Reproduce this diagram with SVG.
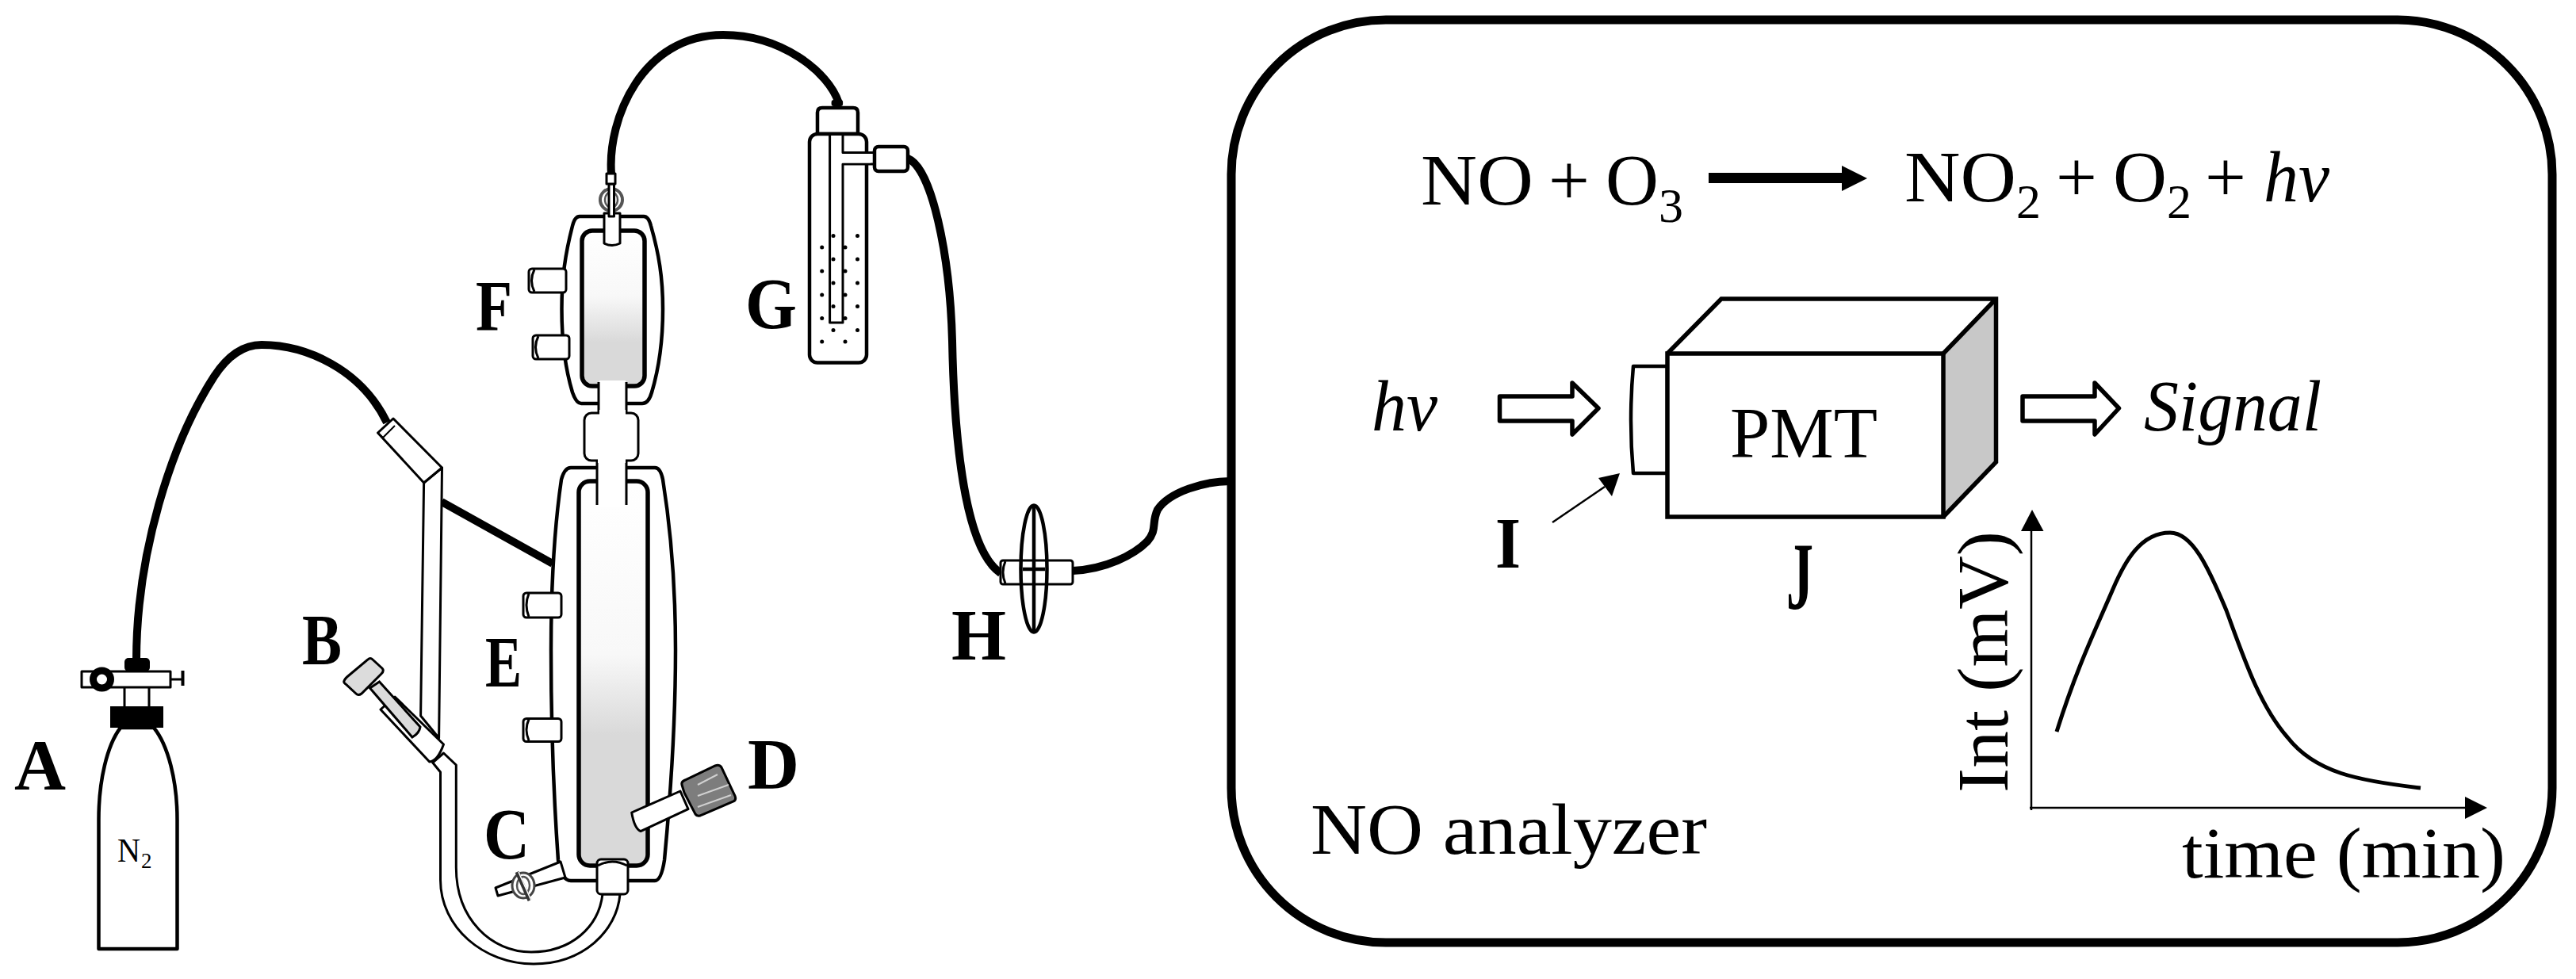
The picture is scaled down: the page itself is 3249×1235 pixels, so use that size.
<svg xmlns="http://www.w3.org/2000/svg" width="3249" height="1235" viewBox="0 0 3249 1235">
<defs>
<linearGradient id="gE" x1="0" y1="0" x2="0" y2="1"><stop offset="0" stop-color="#ffffff"/><stop offset="0.45" stop-color="#f8f8f8"/><stop offset="0.66" stop-color="#d9d9d9"/><stop offset="1" stop-color="#d9d9d9"/></linearGradient>
<linearGradient id="gF" x1="0" y1="0" x2="0" y2="1"><stop offset="0" stop-color="#ffffff"/><stop offset="0.42" stop-color="#f8f8f8"/><stop offset="0.72" stop-color="#d9d9d9"/><stop offset="1" stop-color="#d9d9d9"/></linearGradient>
</defs>
<style>
text{font-family:"Liberation Serif","Times New Roman",serif;fill:#000}
.lab{font-size:92px;font-weight:700}
.t{font-size:92px}
.sub{font-size:62px}
.i{font-style:italic}
.w{fill:#fff;stroke:#000;stroke-width:4.5;stroke-linejoin:round}
.thin{fill:#fff;stroke:#000;stroke-width:3;stroke-linejoin:round}
.ln{fill:none;stroke:#000;stroke-width:3}
.tube{fill:none;stroke:#000;stroke-width:10;stroke-linecap:butt}
.blk{fill:#000;stroke:none}
.dot{fill:#000}
</style>
<rect width="3249" height="1235" fill="#fff"/>

<g id="connectors">
<path class="tube" d="M172 833C172 700 215 560 270 475C285 452 305 435 330 435C385 435 455 465 488 533"/>
<path class="tube" d="M557 633L697 711"/>
<path class="tube" d="M771 219C766 150 810 44 912 44C985 44 1045 90 1058 130"/>
<path class="tube" d="M1145 200C1175 212 1198 320 1201 430C1203 530 1213 690 1262 723"/>
<path class="tube" d="M1353 720C1395 718 1430 700 1447 683C1460 668 1452 660 1460 643C1475 620 1520 607 1552 607"/>
</g>

<g id="node-A">
<path class="w" d="M152 918C135 940 124.500 985 124.500 1034V1197H223.500V1034C223.500 985 212 940 194 918Z"/>
<rect class="blk" x="139" y="891" width="67" height="27"/>
<path class="ln" d="M157 867V891M188 867V891"/>
<rect class="blk" x="157" y="830" width="32" height="17" rx="5"/>
<rect class="thin" x="103" y="847" width="112" height="20"/>
<circle class="w" cx="128.500" cy="857" r="11" style="stroke-width:9"/>
<path class="ln" d="M215 857H230"/>
<path class="ln" d="M230.500 846V865" style="stroke-width:4"/>
<text x="148" y="1087" font-size="42" textLength="29" lengthAdjust="spacingAndGlyphs">N</text>
<text x="178" y="1095" font-size="27">2</text>
<text class="lab" x="18" y="996" textLength="65" lengthAdjust="spacingAndGlyphs">A</text>
</g>

<g id="node-B">
<path class="thin" d="M534.600 609L530.600 903L553.600 931L557.500 590Z"/>
<path class="thin" d="M476.500 546L496 528L557.500 590L534.600 609Z"/>
<path class="ln" d="M476.500 546L483 552L498 537" style="stroke-width:2"/>
<path class="thin" d="M555.500 974V1110C555.500 1170 610 1216 673 1216C735 1216 778 1175 782 1128L760 1128C755 1170 720 1201 670 1201C620 1201 575.300 1160 575.300 1094V965L559.500 950L545.700 962Z"/>
<path class="thin" d="M480 895L541.700 961Q552 960 559.500 939L498 879Z"/>
<path d="M466.600 868L478.500 860L530 917Q529 925 520 930Z" fill="#dcdcdc" stroke="#000" stroke-width="3"/>
<path d="M434 859Q435 856 440 852L464 832Q467 829 470 832L482 843Q485 846 481 850L456 875Q452 878 449 875L436 863Q433 861 434 859Z" fill="#dcdcdc" stroke="#000" stroke-width="3"/>
<text class="lab" x="381" y="838" textLength="50" lengthAdjust="spacingAndGlyphs">B</text>
</g>

<g id="node-E">
<path class="w" d="M720 590H826Q833 590 836 605C848 680 852 760 852 820C852 900 848 980 838 1085Q834 1111 826 1111H720Q708 1111 704 1085C698 1000 695 900 695 820C695 740 700 660 708 605Q712 590 720 590Z"/>
<rect class="thin" x="660" y="748" width="48" height="31" rx="4"/>
<path class="ln" d="M667 749Q661 763 667 778"/>
<rect class="thin" x="660" y="906.500" width="48" height="29" rx="4"/>
<path class="ln" d="M667 907.500Q661 920 667 934"/>
<rect x="730" y="607" width="87" height="485" rx="14" fill="url(#gE)" stroke="#000" stroke-width="5.500"/>
<rect x="754" y="582" width="35" height="58" fill="#fff"/>
<path class="ln" d="M753 637V581M790 637V581"/>
<text class="lab" x="612" y="866" textLength="46" lengthAdjust="spacingAndGlyphs">E</text>
</g>

<g id="node-C">
<path class="thin" d="M707 1087L625 1120L628 1130L713 1107Z"/>
<ellipse cx="660" cy="1117" rx="14" ry="16" fill="#fff" stroke="#444" stroke-width="3"/>
<ellipse cx="660" cy="1117" rx="8" ry="11" fill="none" stroke="#555" stroke-width="2.500"/>
<path d="M652 1100L668 1136" stroke="#333" stroke-width="5" fill="none"/>
<path d="M654 1100L670 1136" stroke="#fff" stroke-width="1.500" fill="none"/>
<text class="lab" x="610" y="1083" textLength="58" lengthAdjust="spacingAndGlyphs">C</text>
</g>

<g id="node-D">
<path class="thin" d="M796.700 1025L858 998L868 1020.600L808 1048.600Q800 1045 796.700 1025Z"/>
<path d="M860 990Q859 986 864 984L902 966Q907 964 910 968L927 1004Q929 1009 925 1011L885 1028Q880 1031 877 1027L863 1000Z" fill="#7d7d7d" stroke="#000" stroke-width="3"/>
<path d="M880 990L905 977M880 1004L919 990M880 1018L922 1003" stroke="#d0d0d0" stroke-width="2" fill="none"/>
<text class="lab" x="943" y="995" textLength="65" lengthAdjust="spacingAndGlyphs">D</text>
</g>

<g id="node-fitting">
<rect class="thin" x="753" y="1084" width="39" height="44" rx="5"/>
<path class="ln" d="M754 1092Q772 1082 791 1092"/>
</g>

<g id="node-F">
<path class="w" d="M731 273H812Q818 273 821 285C831 320 836 350 836 390C836 430 831 465 822 495Q818 509 810 509H733Q727 509 722 495C713 465 708.500 430 708.500 390C708.500 350 713 320 722 285Q725 273 731 273Z"/>
<rect class="thin" x="672" y="423" width="46" height="30" rx="4"/>
<path class="ln" d="M679 424Q672 438 679 452"/>
<rect class="thin" x="667" y="339" width="47" height="30" rx="4"/>
<path class="ln" d="M674 340Q667 354 674 368"/>
<rect x="734" y="291" width="79" height="196" rx="13" fill="url(#gF)" stroke="#000" stroke-width="5.500"/>
<path class="thin" d="M762 269H782V307Q772 312 762 307Z"/>
<rect x="756" y="480" width="33" height="45" fill="#fff"/>
<path class="ln" d="M755 482V521M790 482V521"/>
<rect class="thin" x="737" y="521" width="68" height="60" rx="9"/>
<rect x="756" y="517" width="33" height="7" fill="#fff"/>
<rect x="754" y="579" width="35" height="5" fill="#fff"/>
<ellipse cx="771" cy="252" rx="14" ry="14" fill="#fff" stroke="#555" stroke-width="4"/>
<ellipse cx="771" cy="252" rx="8" ry="10" fill="none" stroke="#555" stroke-width="2.500"/>
<rect class="thin" x="768" y="232" width="6.500" height="41"/>
<rect class="thin" x="765" y="219" width="11" height="13"/>
<text class="lab" x="600" y="417" textLength="46" lengthAdjust="spacingAndGlyphs">F</text>
</g>

<g id="node-G">
<rect class="blk" x="1048.600" y="126" width="14.500" height="8" rx="3"/>
<path class="w" d="M1031 169V142Q1031 136 1037 136H1076Q1082 136 1082 142V169Z"/>
<rect class="w" x="1021" y="169" width="72" height="288.500" rx="10"/>
<path class="thin" d="M1046.600 171V407H1063V207H1103V192.500H1063V171"/>
<rect x="1058" y="194" width="40" height="11.500" fill="#fff"/>
<rect class="w" x="1103" y="185" width="42" height="31" rx="5"/>
<g class="dot">
<circle cx="1036.700" cy="312" r="2.500"/><circle cx="1036.700" cy="342" r="2.500"/><circle cx="1036.700" cy="372" r="2.500"/><circle cx="1036.700" cy="401.500" r="2.500"/><circle cx="1036.700" cy="431" r="2.500"/>
<circle cx="1066" cy="312" r="2.500"/><circle cx="1066" cy="342" r="2.500"/><circle cx="1066" cy="372" r="2.500"/><circle cx="1066" cy="401.500" r="2.500"/><circle cx="1066" cy="431" r="2.500"/>
<circle cx="1051" cy="297.500" r="2.500"/><circle cx="1051" cy="327" r="2.500"/><circle cx="1051" cy="357" r="2.500"/><circle cx="1051" cy="386.500" r="2.500"/><circle cx="1051" cy="416.500" r="2.500"/>
<circle cx="1081.500" cy="297.500" r="2.500"/><circle cx="1081.500" cy="327" r="2.500"/><circle cx="1081.500" cy="357" r="2.500"/><circle cx="1081.500" cy="386.500" r="2.500"/><circle cx="1081.500" cy="416.500" r="2.500"/>
</g>
<text class="lab" x="940" y="414" textLength="65" lengthAdjust="spacingAndGlyphs">G</text>
</g>

<g id="node-H">
<rect class="thin" x="1262" y="707" width="91" height="30" rx="3"/>
<path class="ln" d="M1268 708Q1262 722 1268 736"/>
<ellipse cx="1304" cy="717.500" rx="16.500" ry="80" fill="none" stroke="#000" stroke-width="4.500"/>
<path class="ln" d="M1304 638V797M1290 718H1318" style="stroke-width:4.500"/>
<text class="lab" x="1200" y="832" textLength="69" lengthAdjust="spacingAndGlyphs">H</text>
</g>

<g id="node-analyzer">
<rect x="1553" y="25" width="1666" height="1164" rx="195" ry="195" fill="none" stroke="#000" stroke-width="11"/>
<text class="t" x="1653" y="1077" textLength="500" lengthAdjust="spacingAndGlyphs">NO analyzer</text>
</g>

<g id="equation">
<text class="t" x="1792" y="258" textLength="142" lengthAdjust="spacingAndGlyphs">NO</text>
<text class="t" x="1953" y="258">+</text>
<text class="t" x="2025" y="258" textLength="67" lengthAdjust="spacingAndGlyphs">O</text>
<text class="sub" x="2092" y="280">3</text>
<path class="blk" d="M2155 218H2323V209L2355 225L2323 241V231H2155Z"/>
<text class="t" x="2402" y="254" textLength="141" lengthAdjust="spacingAndGlyphs">NO</text>
<text class="sub" x="2543" y="275">2</text>
<text class="t" x="2593" y="254">+</text>
<text class="t" x="2665" y="254" textLength="68" lengthAdjust="spacingAndGlyphs">O</text>
<text class="sub" x="2733" y="275">2</text>
<text class="t" x="2781" y="254">+</text>
<text class="t i" x="2855" y="254" textLength="83" lengthAdjust="spacingAndGlyphs">hv</text>
</g>

<g id="node-J">
<path d="M2451 446L2517.500 377V583L2451 652Z" fill="#c8c8c8"/>
<path class="w" d="M2060 462H2103V597H2060Q2054 530 2060 462Z"/>
<path d="M2103 446L2171 377H2517.500L2451 446Z" fill="#fff"/>
<rect x="2103" y="446" width="348" height="206" fill="#fff" stroke="#000" stroke-width="5.500"/>
<path d="M2103 446L2171 377H2517.500V583L2451 652M2451 446L2517.500 377" fill="none" stroke="#000" stroke-width="5.500"/>
<text class="t" x="2182" y="577" textLength="186" lengthAdjust="spacingAndGlyphs">PMT</text>
<text class="lab" x="2253" y="768" style="font-size:120px" textLength="34" lengthAdjust="spacingAndGlyphs">J</text>
</g>

<g id="node-I">
<path d="M1958 659L2024 614" stroke="#000" stroke-width="2.500" fill="none"/>
<path class="blk" d="M2043 597L2033 626L2016 603Z"/>
<text class="lab" x="1886" y="716" textLength="32" lengthAdjust="spacingAndGlyphs">I</text>
</g>

<g id="signal-row">
<text class="t i" x="1730" y="543" textLength="83" lengthAdjust="spacingAndGlyphs">hv</text>
<path class="w" d="M1891.500 500H1983V483L2016 515L1983 548V531H1891.500Z" style="stroke-width:5.500"/>
<path class="w" d="M2551 500H2642V483L2672.500 515L2642 548V531H2551Z" style="stroke-width:5.500"/>
<text class="t i" x="2704" y="543" textLength="224" lengthAdjust="spacingAndGlyphs">Signal</text>
</g>

<g id="chart">
<path d="M2562 1022V668" stroke="#000" stroke-width="2.500" fill="none"/>
<path class="blk" d="M2563 643L2577.500 670H2549Z"/>
<path d="M2560 1019H3110" stroke="#000" stroke-width="2.500" fill="none"/>
<path class="blk" d="M3137 1019L3109 1005V1033Z"/>
<path d="M2594 923C2620 840 2645 790 2665 743C2680 708 2700 672 2737 672C2765 672 2785 715 2808 770C2830 830 2850 890 2885 930C2920 975 2975 985 3053 994" fill="none" stroke="#000" stroke-width="5"/>
<text class="t" transform="translate(2532 1000) rotate(-90)" textLength="330" lengthAdjust="spacingAndGlyphs">Int (mV)</text>
<text class="t" x="2752" y="1107" textLength="408" lengthAdjust="spacingAndGlyphs">time (min)</text>
</g>
</svg>
